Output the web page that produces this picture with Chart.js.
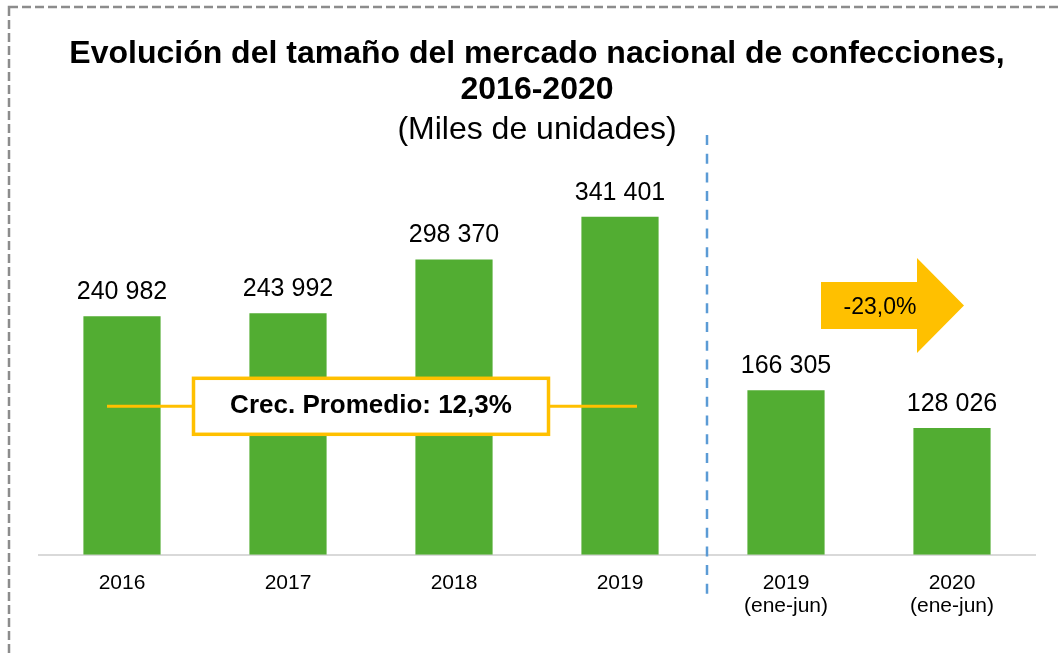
<!DOCTYPE html>
<html>
<head>
<meta charset="utf-8">
<script src="https://cdn.jsdelivr.net/npm/chart.js@4"></script>
<style>
  html, body { margin: 0; padding: 0; background: #fff; }
  canvas { display: block; }
</style>
</head>
<body>
<canvas id="marketChart" width="1058" height="653"></canvas>
<script>
// ===============================
// DATOS
// ===============================
const categories = [['2016'], ['2017'], ['2018'], ['2019'], ['2019', '(ene-jun)'], ['2020', '(ene-jun)']];
const units = [240982, 243992, 298370, 341401, 166305, 128026];
const avgGrowthLabel = 'Crec. Promedio: 12,3%';
const avgLineValue = 150000;
const changeLabel = '-23,0%';

const FONT = "'Liberation Sans', Arial, sans-serif";
const GREEN = '#52ad32';
const YELLOW = '#ffc000';

const fmt = (v) => String(v).replace(/\B(?=(\d{3})+(?!\d))/g, ' ');

// ===============================
// PLUGINS
// ===============================
const frame = {
  id: 'frame',
  beforeDraw(chart) {
    const ctx = chart.ctx;
    ctx.save();
    ctx.strokeStyle = '#8c8c8c';
    ctx.lineWidth = 2.5;
    ctx.setLineDash([9, 4]);
    ctx.strokeRect(9, 7, 1200, 800);
    ctx.restore();
  },
};

const extras = {
  id: 'extras',
  afterDatasetsDraw(chart) {
    const ctx = chart.ctx;
    const x = chart.scales.x;
    const y = chart.scales.y;
    const bars = chart.getDatasetMeta(0).data;

    // etiquetas de valores
    ctx.save();
    ctx.fillStyle = '#000';
    ctx.font = `25px ${FONT}`;
    ctx.textAlign = 'center';
    ctx.textBaseline = 'middle';
    bars.forEach((bar, i) => {
      ctx.fillText(fmt(units[i]), bar.x, bar.y - 24);
    });
    ctx.restore();

    // separador
    const sepX = (x.getPixelForValue(3) + x.getPixelForValue(4)) / 2 + 4;
    ctx.save();
    ctx.strokeStyle = '#5b9bd5';
    ctx.lineWidth = 2.5;
    ctx.setLineDash([10, 8.7]);
    ctx.beginPath();
    ctx.moveTo(sepX, 135);
    ctx.lineTo(sepX, 595);
    ctx.stroke();
    ctx.restore();

    // linea y caja de crecimiento promedio
    const ly = y.getPixelForValue(avgLineValue);
    ctx.save();
    ctx.strokeStyle = YELLOW;
    ctx.lineWidth = 3;
    ctx.beginPath();
    ctx.moveTo(x.getPixelForValue(0) - 15, ly);
    ctx.lineTo(x.getPixelForValue(3) + 17, ly);
    ctx.stroke();
    const bx = (x.getPixelForValue(1) + x.getPixelForValue(2)) / 2;
    const bw = 355, bh = 56;
    ctx.fillStyle = '#fff';
    ctx.fillRect(bx - bw / 2, ly - bh / 2, bw, bh);
    ctx.lineWidth = 3.5;
    ctx.strokeRect(bx - bw / 2, ly - bh / 2, bw, bh);
    ctx.fillStyle = '#000';
    ctx.font = `bold 26px ${FONT}`;
    ctx.textAlign = 'center';
    ctx.textBaseline = 'middle';
    ctx.fillText(avgGrowthLabel, bx, ly);
    ctx.restore();

    // flecha de variacion
    const ax = (x.getPixelForValue(4) + x.getPixelForValue(5)) / 2;
    const ay = 305.5;
    ctx.save();
    ctx.fillStyle = YELLOW;
    ctx.beginPath();
    ctx.moveTo(ax - 48, ay - 23.5);
    ctx.lineTo(ax + 48, ay - 23.5);
    ctx.lineTo(ax + 48, ay - 47.5);
    ctx.lineTo(ax + 95, ay);
    ctx.lineTo(ax + 48, ay + 47.5);
    ctx.lineTo(ax + 48, ay + 23.5);
    ctx.lineTo(ax - 48, ay + 23.5);
    ctx.closePath();
    ctx.fill();
    ctx.fillStyle = '#000';
    ctx.font = `23px ${FONT}`;
    ctx.textAlign = 'center';
    ctx.textBaseline = 'middle';
    ctx.fillText(changeLabel, ax + 11, ay + 2);
    ctx.restore();
  },
};

// ===============================
// GRÁFICO
// ===============================
const ctx = document.getElementById('marketChart').getContext('2d');
const marketChart = new Chart(ctx, {
  type: 'bar',
  data: {
    labels: categories,
    datasets: [{
      data: units,
      backgroundColor: GREEN,
      categoryPercentage: 1,
      barPercentage: 0.465,
    }]
  },
  options: {
    responsive: false,
    animation: false,
    layout: { padding: { left: 39, right: 23, top: 0, bottom: 18 } },
    plugins: {
      legend: { display: false },
      tooltip: { enabled: false },
      title: {
        display: true,
        text: ['Evolución del tamaño del mercado nacional de confecciones,', '2016-2020'],
        color: '#000',
        font: { family: FONT, size: 32, weight: 'bold', lineHeight: 1.1 },
        padding: { top: 37, bottom: 4 },
      },
      subtitle: {
        display: true,
        text: '(Miles de unidades)',
        color: '#000',
        font: { family: FONT, size: 32, weight: 'normal', lineHeight: 1.2 },
        padding: { top: 0, bottom: 9 },
      },
    },
    scales: {
      x: {
        grid: { display: false, drawTicks: false },
        border: { display: true, color: '#d9d9d9', width: 2 },
        ticks: {
          color: '#000',
          padding: 17,
          font: { family: FONT, size: 21, lineHeight: 1.1 },
        },
      },
      y: {
        display: false,
        min: 0,
        max: 400000,
      },
    },
  },
  plugins: [frame, extras],
});
</script>
</body>
</html>
